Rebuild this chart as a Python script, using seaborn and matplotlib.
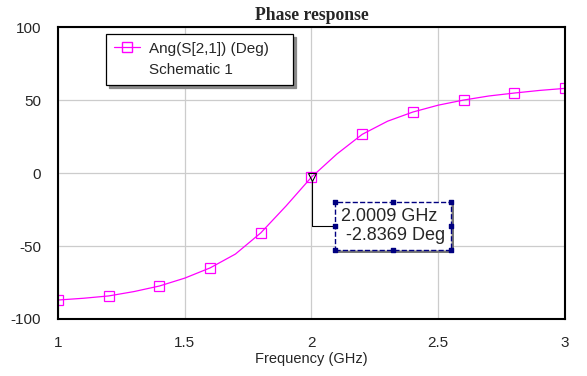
import numpy as np
import pandas as pd
import matplotlib
matplotlib.use("Agg")
import matplotlib.pyplot as plt
from matplotlib.lines import Line2D
from matplotlib.patches import Rectangle
import seaborn as sns

# sweep (markers sit on every other point)
freq_ghz = [1.0, 1.1, 1.2, 1.3, 1.4, 1.5, 1.6, 1.7, 1.8, 1.9, 2.0,
            2.1, 2.2, 2.3, 2.4, 2.5, 2.6, 2.7, 2.8, 2.9, 3.0]
phase_deg = [-87.0, -85.8, -84.2, -81.2, -77.4, -72.0, -65.0, -55.5, -41.0, -22.5, -2.8,
             13.0, 26.5, 35.5, 41.8, 46.5, 50.0, 52.8, 54.8, 56.6, 58.0]
marker_freq = 2.0009
marker_phase = -2.8369
x_ticks = [1, 1.5, 2, 2.5, 3]
y_ticks = [-100, -50, 0, 50, 100]

df = pd.DataFrame({"freq": freq_ghz, "phase": phase_deg})

sns.set_style("white")
plt.rcParams["font.family"] = ["Liberation Sans", "DejaVu Sans"]
plt.rcParams["axes.unicode_minus"] = False

fig = plt.figure(figsize=(5.87, 3.76), dpi=100)
ax = fig.add_axes([0.0988, 0.1516, 0.8637, 0.7764])

pink = "#ff00ff"
sns.lineplot(data=df, x="freq", y="phase", ax=ax, color=pink, linewidth=0.9,
             marker="s", markersize=7, markerfacecolor="none", markeredgecolor=pink,
             markeredgewidth=0.9, markevery=2)

ax.set_xlim(1, 3)
ax.set_ylim(-100, 100)
ax.set_xticks(x_ticks)
ax.set_xticklabels(["1", "1.5", "2", "2.5", "3"])
ax.set_yticks(y_ticks)
ax.grid(True, color="#cccccc", linewidth=0.9)
ax.tick_params(length=0, labelsize=11, pad=12)
for s in ax.spines.values():
    s.set_color("black")
    s.set_linewidth(1.5)
ax.set_xlabel("Frequency (GHz)", fontsize=10.5, labelpad=2)
ax.set_ylabel("")
ax.set_title("Phase response", fontsize=12.7, fontweight="bold",
             family=["Liberation Serif", "DejaVu Serif"], pad=5)

# legend box
h1 = Line2D([], [], color=pink, linewidth=0.9, marker="s", markersize=7,
            markerfacecolor="none", markeredgecolor=pink)
h2 = Line2D([], [], alpha=0)
leg = ax.legend([h1, h2], ["Ang(S[2,1]) (Deg)", "Schematic 1"], loc="upper left",
                bbox_to_anchor=(0.0947, 0.5, 0.369, 0.476), mode="expand",
                fancybox=False, shadow={"color": "#8a8a8a", "alpha": 1, "ox": 2.2, "oy": -2.2},
                framealpha=1, edgecolor="black", fontsize=11, handlelength=1.7,
                handletextpad=0.6, borderpad=0.5, labelspacing=0.5, borderaxespad=0)
leg.get_frame().set_linewidth(0.9)

# marker readout
ax.plot([marker_freq], [marker_phase], marker="v", markersize=6, color="black",
        markerfacecolor="none", markeredgewidth=0.8, zorder=5)
ann = ax.annotate(f"{marker_freq:.4f} GHz\n {marker_phase:.4f} Deg",
                  xy=(marker_freq, marker_phase), xytext=(2.118, -36.3),
                  fontsize=13, va="center", ha="left", linespacing=1.15, zorder=6,
                  bbox=dict(boxstyle="square,pad=0.33", facecolor="white",
                            edgecolor="#000080", linestyle="--", linewidth=1.0),
                  arrowprops=dict(arrowstyle="-", color="black", linewidth=0.8,
                                  connectionstyle="angle,angleA=0,angleB=90,rad=0",
                                  shrinkA=0, shrinkB=3))

# shadow and grab handles around the readout box
fig.canvas.draw()
bb = ann.get_bbox_patch().get_window_extent()
ax.add_patch(Rectangle((bb.x0 + 3, bb.y0 - 3), bb.width, bb.height, transform=None,
                       facecolor="#777777", edgecolor="none", zorder=5.5))
inv = ax.transData.inverted()
hx = [bb.x0, (bb.x0 + bb.x1) / 2, bb.x1]
hy = [bb.y0, (bb.y0 + bb.y1) / 2, bb.y1]
pts = [(x, y) for x in hx for y in hy if not (x == hx[1] and y == hy[1])]
dpts = inv.transform(pts)
ax.scatter(dpts[:, 0], dpts[:, 1], s=6, marker="s", color="#000080", zorder=7,
           clip_on=False)

fig.savefig("out.png", dpi=100)
